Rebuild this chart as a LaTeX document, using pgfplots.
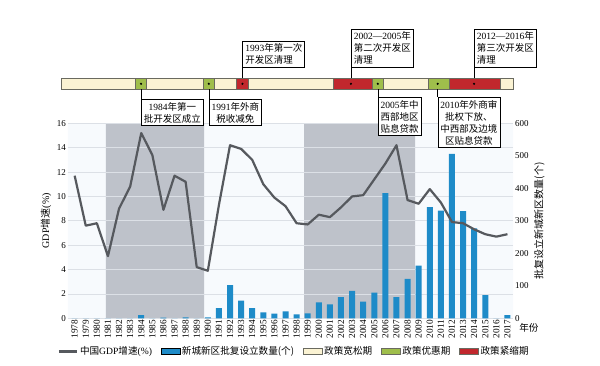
\documentclass[border=0pt]{standalone}
\usepackage{fontspec}
\setmainfont{Liberation Serif}
\newfontfamily\cjk{Noto Sans CJK SC}
\usepackage{pgfplots}
\pgfplotsset{compat=1.18}
\usepackage{pgfplotstable}

\definecolor{barblue}{HTML}{1E8BC8}
\definecolor{linegray}{HTML}{56595E}
\definecolor{bandgray}{HTML}{BEC2CA}
\definecolor{bgcol}{HTML}{F7FAFD}
\definecolor{gridc}{HTML}{DCE0E6}
\definecolor{creamc}{HTML}{FBF3D3}
\definecolor{greenc}{HTML}{9FBE4B}
\definecolor{redc}{HTML}{C1272D}
\definecolor{edgec}{HTML}{6A6A60}

\newcommand\lat[1]{{\rmfamily #1}}

\pgfplotstableread{
year gdp n
1978 11.7 0
1979 7.6 0
1980 7.8 0
1981 5.1 0
1982 9.0 0
1983 10.8 0
1984 15.2 10
1985 13.4 0
1986 8.9 2
1987 11.7 0
1988 11.2 3
1989 4.2 0
1990 3.9 3
1991 9.3 31
1992 14.2 102
1993 13.9 54
1994 13.0 31
1995 11.0 18
1996 9.9 14
1997 9.2 21
1998 7.8 12
1999 7.7 15
2000 8.5 49
2001 8.3 43
2002 9.1 65
2003 10.0 84
2004 10.1 51
2005 11.4 79
2006 12.7 385
2007 14.2 65
2008 9.7 121
2009 9.4 162
2010 10.6 342
2011 9.5 331
2012 7.9 506
2013 7.8 330
2014 7.3 277
2015 6.9 71
2016 6.7 0
2017 6.9 10
}\data

\begin{document}
\begin{tikzpicture}[
  box/.style={draw=black, fill=white, line width=0.6pt, inner sep=2.5pt,
    font=\cjk\fontsize{9.5}{12}\selectfont},
  seg/.style={draw=edgec, line width=0.7pt}
]
% background and bands
\begin{axis}[
  at={(0,0)}, anchor=south west,
  scale only axis, width=445pt, height=195pt,
  xmin=1977.4, xmax=2017.5, ymin=0, ymax=16,
  hide axis
]
\addplot[fill=bgcol, draw=none] coordinates {(1977.4,0) (1977.4,16) (2017.5,16) (2017.5,0)} \closedcycle;
\addplot[fill=bandgray, draw=none] coordinates {(1980.82,0) (1980.82,16) (1989.66,16) (1989.66,0)} \closedcycle;
\addplot[fill=bandgray, draw=none] coordinates {(1998.67,0) (1998.67,16) (2008.67,16) (2008.67,0)} \closedcycle;
\end{axis}

% main axis
\begin{axis}[
  at={(0,0)}, anchor=south west,
  scale only axis, width=445pt, height=195pt,
  xmin=1977.4, xmax=2017.5, ymin=0, ymax=16,
  axis line style={draw=none}, major tick length=0pt,
  xtick={1978,...,2017},
  x tick label style={rotate=90, anchor=east, inner sep=1.5pt, font=\fontsize{9.3}{9.3}\selectfont},
  /pgf/number format/1000 sep={},
  /pgf/number format/assume math mode=true,
  ytick={0,2,...,16},
  y tick label style={font=\fontsize{9}{9}\selectfont, inner sep=2pt},
  ymajorgrids, grid style={gridc, line width=0.8pt},
  ylabel={GDP{\cjk 增速}(\%)},
  ylabel style={font=\fontsize{10}{10}\selectfont},
  clip=false,
  legend style={draw=none, fill=none, at={(0.508,-0.171)}, anchor=center,
    legend columns=5, font=\cjk\fontsize{9.6}{10}\selectfont,
    /tikz/every even column/.append style={column sep=6.5pt},
    legend cell align=left, inner sep=0pt},
  legend image code/.code={\draw[#1] (0pt,-3pt) rectangle (19pt,3pt);},
]
\addplot[ybar, bar width=6pt, bar shift=0pt, fill=barblue, draw=none, forget plot]
  table[x=year, y expr=\thisrow{n}/37.5] {\data};
\addplot[linegray, line width=2.2pt, line join=round, mark=none, forget plot]
  table[x=year, y=gdp] {\data};

\addlegendimage{legend image code/.code={\draw[linegray, line width=2.5pt] (0pt,0pt) -- (18pt,0pt);}}
\addlegendentry{中国\lat{GDP}增速\lat{(\%)}}
\addlegendimage{fill=barblue, draw=none}
\addlegendentry{新城新区批复设立数量(个)}
\addlegendimage{fill=creamc, draw=edgec, line width=0.7pt}
\addlegendentry{政策宽松期}
\addlegendimage{fill=greenc, draw=edgec, line width=0.7pt}
\addlegendentry{政策优惠期}
\addlegendimage{fill=redc, draw=edgec, line width=0.7pt}
\addlegendentry{政策紧缩期}

% timeline
\draw[seg, fill=creamc] (axis cs:1976.83,18.79) rectangle (axis cs:2017.53,19.69);
\draw[seg, fill=greenc] (axis cs:1983.44,18.79) rectangle (axis cs:1984.49,19.69);
\draw[seg, fill=greenc] (axis cs:1989.59,18.79) rectangle (axis cs:1990.58,19.69);
\draw[seg, fill=redc] (axis cs:1992.60,18.79) rectangle (axis cs:1993.65,19.69);
\draw[seg, fill=redc] (axis cs:2001.31,18.79) rectangle (axis cs:2004.82,19.69);
\draw[seg, fill=greenc] (axis cs:2004.82,18.79) rectangle (axis cs:2005.81,19.69);
\draw[seg, fill=greenc] (axis cs:2009.87,18.79) rectangle (axis cs:2011.76,19.69);
\draw[seg, fill=redc] (axis cs:2011.76,18.79) rectangle (axis cs:2016.39,19.69);
\pgfplotsinvokeforeach{1983.98,1990.09,1993.12,2002.9,2005.32,2010.71,2013.99}{
  \fill[black] (axis cs:#1,19.24) circle (1.2pt);
}

% connectors
\draw[black, line width=0.6pt] (axis cs:1983.98,18.79) -- (axis cs:1983.98,17.97);
\draw[black, line width=0.6pt] (axis cs:1990.09,18.79) -- (axis cs:1990.09,17.97);
\draw[black, line width=0.6pt] (axis cs:2005.32,18.79) -- (axis cs:2005.32,18.13);
\draw[black, line width=0.6pt] (axis cs:2010.71,18.79) -- (axis cs:2010.71,18.13);
\draw[black, line width=0.6pt] (axis cs:1993.12,19.69) -- (axis cs:1993.12,20.58);
\draw[black, line width=0.6pt] (axis cs:2002.9,19.69) -- (axis cs:2002.9,20.58);
\draw[black, line width=0.6pt] (axis cs:2013.99,19.69) -- (axis cs:2013.99,20.58);

% annotation boxes
\node[box, anchor=north west, align=center] at (axis cs:1983.98,17.97) {\lat{1984}年第一\\批开发区成立};
\node[box, anchor=north west, align=center] at (axis cs:1990.09,17.97) {\lat{1991}年外商\\税收减免};
\node[box, anchor=north west, align=center] at (axis cs:2005.32,18.13) {\lat{2005}年中\\西部地区\\贴息贷款};
\node[box, anchor=north west, align=center] at (axis cs:2010.71,18.13) {\lat{2010}年外商审\\批权下放、\\中西部及边境\\区贴息贷款};
\node[box, anchor=south west, align=left] at (axis cs:1993.12,20.58) {\lat{1993}年第一次\\开发区清理};
\node[box, anchor=south west, align=left] at (axis cs:2002.9,20.58) {\lat{2002—2005}年\\第二次开发区\\清理};
\node[box, anchor=south west, align=left] at (axis cs:2013.99,20.58) {\lat{2012—2016}年\\第三次开发区\\清理};

\node[font=\cjk\fontsize{9.6}{10}\selectfont] at (axis cs:2018.94,-0.8) {年份};
\end{axis}

% right axis
\begin{axis}[
  at={(0,0)}, anchor=south west,
  scale only axis, width=445pt, height=195pt,
  xmin=1977.4, xmax=2017.5, ymin=0, ymax=600,
  hide x axis,
  axis y line*=right,
  axis line style={draw=none}, major tick length=0pt,
  ytick={0,100,...,600},
  /pgf/number format/assume math mode=true,
  y tick label style={font=\fontsize{9}{9}\selectfont, inner sep=2pt},
  ylabel={批复设立新城新区数量(个)},
  ylabel style={font=\cjk\fontsize{10}{10}\selectfont},
]
\addplot[draw=none, forget plot] coordinates {(1980,0) (1981,600)};
\end{axis}

\path (-68pt,-47.7pt) rectangle (532pt,318.3pt);
\end{tikzpicture}
\end{document}
